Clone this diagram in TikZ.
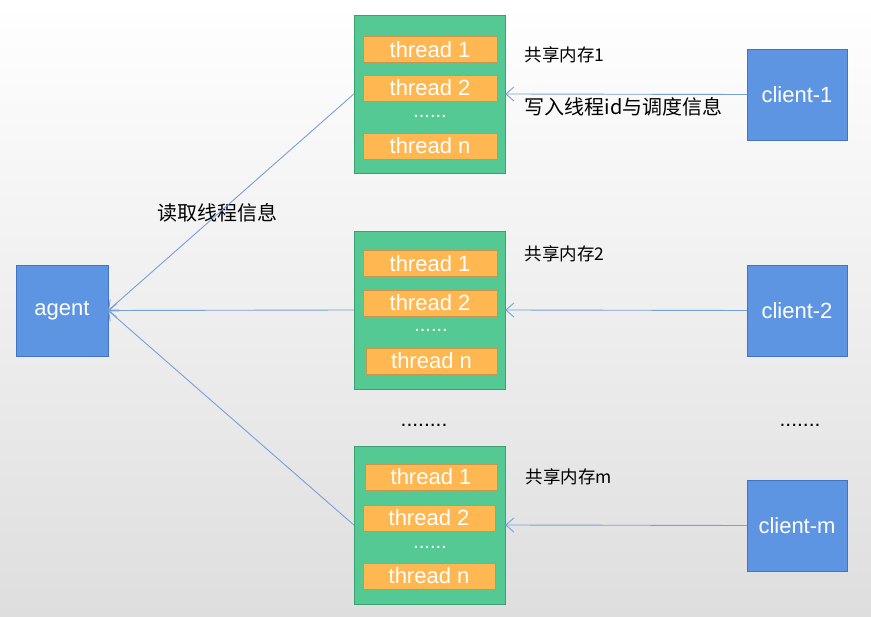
\documentclass[tikz,border=0pt]{standalone}
\usepackage{fontspec}
\setmainfont{Liberation Sans}
\newfontfamily\cjk{Noto Sans CJK SC}
\usetikzlibrary{arrows.meta}

\definecolor{boxblue}{RGB}{94,149,226}
\definecolor{boxblueline}{RGB}{68,114,196}
\definecolor{shmgreen}{RGB}{84,201,148}
\definecolor{shmline}{RGB}{62,160,112}
\definecolor{throrange}{RGB}{255,183,81}
\definecolor{thrline}{RGB}{200,150,74}
\definecolor{arrblue}{RGB}{120,160,218}

\tikzset{
  procbox/.style={draw=boxblueline,fill=boxblue,text=white,inner sep=0pt,
    minimum width=100pt,minimum height=91pt,font=\fontsize{22}{22}\selectfont},
  shmbox/.style={draw=shmline,fill=shmgreen,inner sep=0pt,
    minimum width=151pt,minimum height=158pt},
  thrbox/.style={draw=thrline,fill=throrange,text=white,inner sep=0pt,
    minimum width=134pt,minimum height=26pt,font=\fontsize{22}{22}\selectfont},
  thrdots/.style={text=white,inner sep=0pt,font=\fontsize{20}{20}\selectfont},
  gapdots/.style={inner sep=0pt,font=\fontsize{21}{21}\selectfont},
  readarrow/.style={draw=arrblue,line width=0.9pt,-{Straight Barb[length=8pt,width=14pt]}}
}

\begin{document}
\begin{tikzpicture}[x=1pt,y=-1pt]

% background
\shade[top color=white,bottom color={rgb,255:red,222;green,222;blue,222}]
  (0,0) rectangle (871,617);
\useasboundingbox (0,0) rectangle (871,617);

% agent
\node[procbox,minimum width=92pt] (agent) at (62,310.5) {agent};

% clients
\node[procbox] (client1) at (797,94.5) {client-1};
\node[procbox] (client2) at (797,310.5) {client-2};
\node[procbox] (clientm) at (797,525.5) {client-m};

% shared memory blocks
\node[shmbox] (shm1) at (429.5,94) {};
\node[shmbox] (shm2) at (429.5,310) {};
\node[shmbox] (shmm) at (429.5,525) {};

% threads in block 1
\node[thrbox] (t11) at (430,49.5) {thread 1};
\node[thrbox] (t12) at (430,88) {thread 2};
\node[thrdots] (d1) at (430,116) {......};
\node[thrbox] (t1n) at (430,146) {thread n};

% threads in block 2
\node[thrbox] (t21) at (430,263.5) {thread 1};
\node[thrbox] (t22) at (430,303) {thread 2};
\node[thrdots] (d2) at (431,330) {......};
\node[thrbox,minimum width=131pt] (t2n) at (431.5,361) {thread n};

% threads in block m
\node[thrbox,minimum width=132pt] (tm1) at (431,477) {thread 1};
\node[thrbox,minimum width=132pt] (tm2) at (429,518) {thread 2};
\node[thrdots] (dm) at (430,547) {......};
\node[thrbox,minimum width=132pt] (tmn) at (429,576) {thread n};

% gaps
\node[gapdots] (gap1) at (424,425) {........};
\node[gapdots] (gap2) at (800,425) {.......};

% labels
\node[anchor=west,font=\cjk\fontsize{17.5}{17.5}\selectfont] (lab1) at (521,55) {共享内存1};
\node[anchor=west,font=\cjk\fontsize{17.5}{17.5}\selectfont] (lab2) at (521,254) {共享内存2};
\node[anchor=west,font=\cjk\fontsize{17.5}{17.5}\selectfont] (labm) at (522,477) {共享内存m};
\node[anchor=west,font=\cjk\fontsize{20}{20}\selectfont] (write) at (521,107) {写入线程id与调度信息};
\node[font=\cjk\fontsize{20}{20}\selectfont] (read) at (217,213) {读取线程信息};

% client -> shared memory
\draw[readarrow] (client1.west) -- (shm1.east);
\draw[readarrow] (client2.west) -- (shm2.east);
\draw[readarrow] (clientm.west) -- (shmm.east);

% shared memory -> agent
\draw[readarrow] (shm1.west) -- (agent.east);
\draw[readarrow] (shm2.west) -- (agent.east);
\draw[readarrow] (shmm.west) -- (agent.east);

\end{tikzpicture}
\end{document}
